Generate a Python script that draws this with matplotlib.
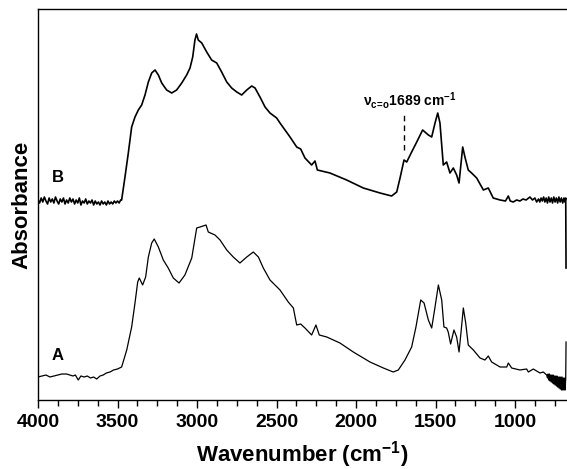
import numpy as np
import matplotlib
matplotlib.use("Agg")
import matplotlib.pyplot as plt
from matplotlib.ticker import MultipleLocator

# 図の見た目
plt.rcParams['font.family'] = ['Liberation Sans', 'DejaVu Sans']
plt.rcParams['font.weight'] = 'bold'
plt.rcParams['mathtext.default'] = 'regular'
plt.rcParams['axes.linewidth'] = 1.0
plt.rcParams['xtick.direction'] = 'out'

# spectrum B (upper)
wn_b = [4000, 3990, 3980, 3970, 3960, 3950, 3940, 3930, 3920, 3910, 3900, 3890,
        3880, 3870, 3860, 3850, 3840, 3830, 3820, 3810, 3800, 3790, 3780, 3770,
        3760, 3750, 3740, 3730, 3720, 3710, 3700, 3690, 3680, 3670, 3660, 3650,
        3640, 3630, 3620, 3610, 3600, 3590, 3580, 3570, 3560, 3550, 3540, 3530,
        3520, 3510, 3500, 3490, 3480, 3474,
        3453, 3432, 3411, 3390, 3369, 3348, 3327, 3306, 3285, 3264, 3243, 3222,
        3191, 3159, 3128, 3096, 3065, 3044, 3027, 3013, 3003, 2992, 2970, 2939,
        2908, 2876, 2845, 2813, 2782, 2750, 2719, 2687, 2656, 2635, 2604, 2572,
        2541, 2499, 2478, 2415, 2373, 2348, 2321, 2279, 2258, 2243, 2164, 2059,
        1954, 1849, 1776, 1744, 1723, 1698, 1681, 1650, 1618, 1581, 1545, 1524,
        1503, 1486, 1472, 1451, 1430, 1409, 1388, 1367, 1352, 1335, 1329, 1315,
        1294, 1273, 1241, 1199, 1168, 1137, 1094, 1060, 1042, 1030, 1011, 990,
        969, 950, 930, 906, 890, 875, 864, 852, 844, 836, 828, 820, 812, 804,
        796, 788, 780, 772, 764, 756, 748, 740, 732, 724, 716, 708, 700, 692,
        686, 681, 679]
ab_b = [2.00, 1.97, 2.02, 1.98, 2.03, 1.99, 1.96, 2.02, 1.98, 2.01, 1.97, 2.03,
        1.99, 1.96, 2.01, 1.98, 2.02, 1.96, 2.00, 1.97, 2.02, 1.98, 2.01, 1.96,
        2.00, 1.97, 2.02, 1.95, 1.99, 1.97, 2.01, 1.96, 1.99, 1.97, 2.00, 1.95,
        1.99, 1.96, 1.98, 1.95, 1.99, 1.96, 1.98, 1.95, 1.99, 1.96, 1.98, 1.96,
        1.99, 1.97, 1.99, 1.97, 2.00, 2.00,
        2.23, 2.47, 2.73, 2.83, 2.90, 2.95, 3.05, 3.18, 3.27, 3.30, 3.25, 3.17,
        3.10, 3.07, 3.10, 3.17, 3.25, 3.32, 3.43, 3.60, 3.66, 3.60, 3.57, 3.48,
        3.40, 3.37, 3.28, 3.18, 3.12, 3.08, 3.05, 3.10, 3.14, 3.12, 3.03, 2.93,
        2.87, 2.82, 2.77, 2.63, 2.53, 2.51, 2.42, 2.35, 2.39, 2.30, 2.27, 2.20,
        2.12, 2.07, 2.04, 2.08, 2.22, 2.40, 2.38, 2.48, 2.58, 2.70, 2.65, 2.63,
        2.77, 2.87, 2.77, 2.35, 2.38, 2.27, 2.32, 2.25, 2.17, 2.43, 2.53, 2.43,
        2.30, 2.27, 2.22, 2.10, 2.12, 2.02, 2.00, 1.99, 2.04, 1.99, 1.98, 2.00,
        1.99, 2.01, 2.00, 2.03, 2.00, 2.02, 1.98, 2.01, 1.98, 2.02, 1.99, 2.03, 1.98, 2.02,
        1.97, 2.03, 1.98, 2.02, 1.97, 2.03, 1.98, 2.02, 1.97, 2.03, 1.98, 2.02, 1.97, 2.02,
        1.98, 2.02, 1.32]

# spectrum A (lower)
wn_a = [4000, 3975, 3950, 3925, 3900, 3875, 3850, 3820, 3800, 3780, 3765, 3747,
        3730, 3710, 3690, 3670, 3650, 3631, 3610, 3590, 3570, 3547, 3525, 3500,
        3474, 3442, 3411, 3390, 3373, 3363, 3342,
        3323, 3306, 3285, 3269, 3243, 3212, 3181, 3149, 3113, 3076, 3033,
        3002, 2981, 2943, 2929, 2887, 2855, 2813, 2772, 2730, 2687, 2646,
        2614, 2583, 2541, 2478, 2426, 2394, 2373, 2348, 2321, 2279, 2252,
        2231, 2184, 2101, 2017, 1912, 1828, 1766, 1734, 1692, 1650, 1623,
        1593, 1572, 1545, 1524, 1503, 1482, 1461, 1447, 1430, 1420, 1405,
        1384, 1367, 1352, 1340, 1325, 1310, 1294, 1262, 1220, 1189, 1168,
        1147, 1094, 1052, 1042, 1021, 969, 927, 916, 885, 843, 822, 801,
        796, 792, 788, 784, 780, 776, 772, 768, 764, 760, 756, 752, 748, 744,
        740, 736, 732, 728, 724, 720, 716, 712, 708, 704, 700, 696, 692, 688,
        685, 681, 679]
ab_a = [0.23, 0.24, 0.25, 0.23, 0.24, 0.25, 0.26, 0.26, 0.25, 0.24, 0.25, 0.20,
        0.24, 0.23, 0.24, 0.22, 0.23, 0.21, 0.24, 0.25, 0.27, 0.28, 0.30, 0.31,
        0.33, 0.50, 0.73, 0.97, 1.18, 1.22, 1.15,
        1.23, 1.43, 1.57, 1.61, 1.53, 1.40, 1.32, 1.22, 1.17, 1.25, 1.42,
        1.72, 1.73, 1.75, 1.68, 1.65, 1.60, 1.50, 1.43, 1.37, 1.43, 1.48,
        1.43, 1.32, 1.20, 1.10, 0.98, 0.92, 0.75, 0.76, 0.72, 0.65, 0.75,
        0.65, 0.63, 0.57, 0.48, 0.38, 0.32, 0.28, 0.30, 0.40, 0.53, 0.73,
        1.00, 0.97, 0.80, 0.72, 0.93, 1.15, 1.00, 0.73, 0.72, 0.68, 0.56,
        0.70, 0.63, 0.48, 0.67, 0.92, 0.77, 0.55, 0.50, 0.42, 0.40, 0.44,
        0.38, 0.33, 0.33, 0.37, 0.32, 0.30, 0.31, 0.28, 0.31, 0.27, 0.28, 0.25,
        0.22, 0.26, 0.20, 0.26, 0.19, 0.25, 0.18, 0.25, 0.17, 0.25, 0.16, 0.24, 0.15, 0.24,
        0.14, 0.24, 0.13, 0.23, 0.12, 0.23, 0.11, 0.23, 0.10, 0.23, 0.10, 0.22, 0.10, 0.22,
        0.10, 0.22, 0.58]

labels = ["B", "A"]
label_pos = [(3915, 2.23), (3915, 0.45)]
note_text = r"ν$_{c\!=\!o}$1689 cm$^{-1}$"
note_wn = 1695

fig = plt.figure(figsize=(5.67, 4.69), dpi=100)
ax = fig.add_axes([38 / 567, 69 / 469, 529 / 567, 391 / 469])

ax.plot(wn_b, ab_b, color="black", lw=1.2)
ax.plot(wn_a, ab_a, color="black", lw=0.9)

for t, (x, y) in zip(labels, label_pos):
    ax.text(x, y, t, fontsize=12, fontweight="bold", ha="left", va="center")

# C=O の帰属
ax.vlines(note_wn, 2.50, 2.86, colors="black", linestyles=(0, (4, 3)), lw=1.0)
ax.text(1956, 2.99, note_text, fontsize=10, fontweight="bold", ha="left", va="center")

ax.set_xlim(4000, 673)
ax.set_ylim(0, 3.91)
ax.xaxis.set_major_locator(MultipleLocator(500))
ax.xaxis.set_minor_locator(MultipleLocator(125))
ax.tick_params(axis="x", which="major", length=6, width=1.0, pad=4, labelsize=14)
ax.tick_params(axis="x", which="minor", length=4, width=1.0)
for lab in ax.get_xticklabels():
    lab.set_fontweight("bold")
ax.set_yticks([])
ax.spines["right"].set_visible(False)

ax.set_xlabel("Wavenumber (cm$^{-1}$)", fontsize=16, fontweight="bold", labelpad=6)
ax.set_ylabel("Absorbance", fontsize=16, fontweight="bold", labelpad=4)

fig.savefig("out.png", dpi=100)
